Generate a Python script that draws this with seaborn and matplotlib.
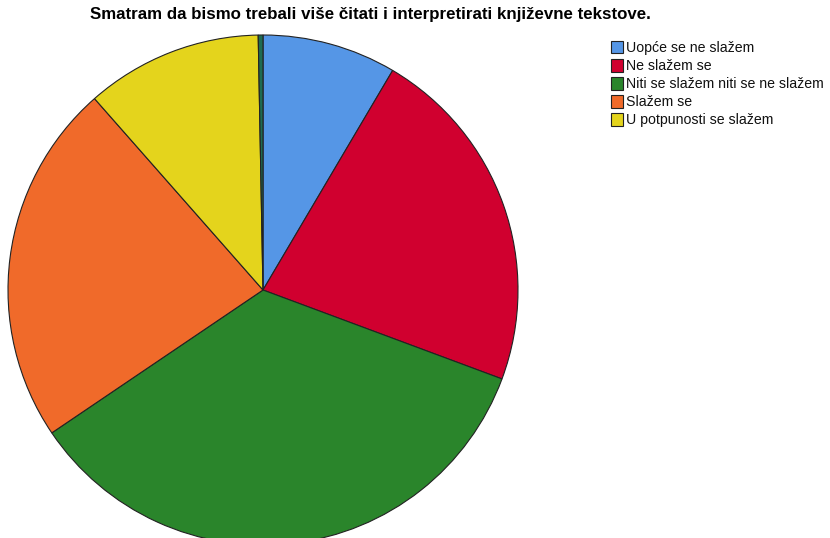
import matplotlib
matplotlib.use("Agg")
import matplotlib.pyplot as plt
import seaborn as sns

# answers (SPSS-style pie, clockwise from 12 o'clock)
labels = ['Uopće se ne slažem', 'Ne slažem se', 'Niti se slažem niti se ne slažem',
          'Slažem se', 'U potpunosti se slažem']
percent = [8.5, 22.2, 34.9, 23.0, 11.2]
missing = [0.3]  # thin sliver at the top, not in legend
colors = ['#5596E6', '#D0002F', '#2A852B', '#F06A2A', '#E4D41C']
missing_color = '#1E6B52'

title = 'Smatram da bismo trebali više čitati i interpretirati književne tekstove.'

sns.set_theme(style="white")
plt.rcParams['font.family'] = ['Liberation Sans', 'DejaVu Sans']
plt.rcParams['text.color'] = 'black'

fig = plt.figure(figsize=(8.3, 5.38), dpi=100)
W, H = 830, 538
cx, cy, r = 263, 290, 255
ax = fig.add_axes([(cx - r) / W, (H - cy - r) / H, 2 * r / W, 2 * r / H])

wedges, _ = ax.pie(percent + missing, colors=colors + [missing_color],
                   startangle=90, counterclock=False, radius=1,
                   wedgeprops=dict(edgecolor='#222222', linewidth=0.8))
for w in wedges:
    w.set_clip_on(False)
ax.set_xlim(-1, 1)
ax.set_ylim(-1, 1)
ax.set_aspect('equal')
ax.axis('off')

fig.text(370 / W, 1 - 14 / H, title, ha='center', va='center',
         fontsize=12.2, fontweight='bold', color='black')

leg = fig.legend(wedges[:len(labels)], labels, loc='upper left',
                 bbox_to_anchor=(605 / W, 1 - 35 / H), frameon=False,
                 fontsize=10.2, handlelength=0.9, handleheight=1.0,
                 handletextpad=0.15, labelspacing=0.28, borderaxespad=0)
for t in leg.get_texts():
    t.set_color('#111111')

fig.savefig('out.png', dpi=100)
